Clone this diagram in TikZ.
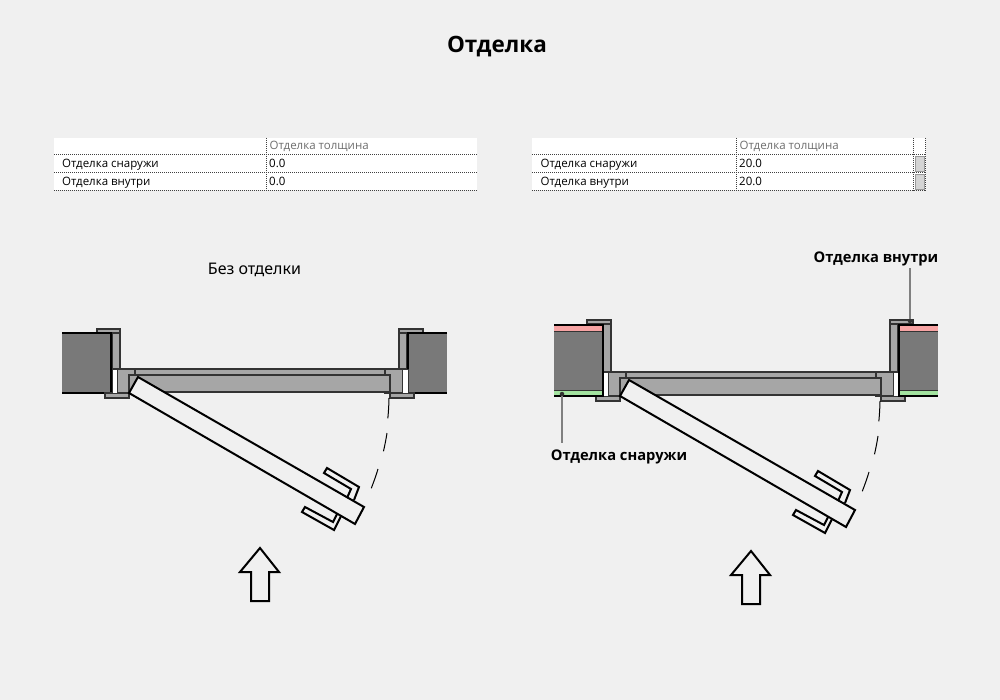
\documentclass[tikz,border=0pt]{standalone}
\usepackage{fontspec}
\setmainfont{Noto Sans}
\newfontfamily\tabfont{Open Sans}
\newfontfamily\headfont{Open Sans}
\definecolor{bg}{HTML}{F0F0F0}
\definecolor{metal}{HTML}{A6A6A6}
\definecolor{core}{HTML}{797979}
\definecolor{edge}{HTML}{333333}
\definecolor{pinkf}{HTML}{F6A3A3}
\definecolor{greenf}{HTML}{A3E3A0}
\definecolor{leader}{HTML}{808080}
\definecolor{headgray}{HTML}{6E6E6E}
\definecolor{btn}{HTML}{D4D4D4}
\tikzset{
  x=1pt,y=-1pt,
  part/.style={fill=metal,draw=edge,line width=1.1pt},
  gapw/.style={fill=white,draw=edge,line width=.8pt},
  wallb/.style={draw=black,line width=2pt},
  thick line/.style={draw=black,line width=2pt,line join=miter},
  swing/.style={draw=black,line width=1pt},
  cell/.style={font=\tabfont\fontsize{11.5}{13}\selectfont,anchor=base west,inner sep=0pt},
  head/.style={cell,text=headgray},
  grid/.style={draw=black!75,line width=.7pt,dash pattern=on 1pt off 1pt},
  lbl/.style={font=\headfont\fontsize{14.7}{18}\selectfont\bfseries,inner sep=0pt,anchor=base},
  lead/.style={draw=leader,line width=1.3pt},
  dot/.style={fill=edge,draw=none,circle,inner sep=0pt,minimum size=4.5pt},
}
\newcommand{\doorcore}{%
  \draw[part] (135,369) rectangle (385,375);
  \draw[part] (117.5,369) -- (135,369) -- (135,375) -- (129,375) -- (129,393) -- (117.5,393) -- cycle;
  \draw[part] (385,369) rectangle (402.5,393);
  \draw[part,line width=1.4pt] (129,375) rectangle (390,392);
  \draw[part] (105,393) rectangle (129,398);
  \draw[part] (390,393) rectangle (414,398);
  \draw[gapw] (112,369) rectangle (117.5,393);
  \draw[gapw] (402.5,369) rectangle (408,393);
  \draw[thick line,fill=bg] (138,377) -- (364,507) -- (355,524) -- (129,393) -- cycle;
  \draw[thick line] (354,500) -- (359,487) -- (327,468) -- (324,473) -- (351,489) -- (347,498);
  \draw[thick line] (337,514) -- (333,522) -- (305,507) -- (302,512) -- (334,530) -- (341,516);
  \draw[swing] (389,398) arc[start angle=1,end angle=5.5,radius=260];
  \draw[swing] (387,433) arc[start angle=8.9,end angle=13,radius=260];
  \draw[swing] (378,469) arc[start angle=17,end angle=21.5,radius=260];
  \draw[thick line] (260,548) -- (240,572) -- (251,572) -- (251,601) -- (269,601) -- (269,572) -- (279,572) -- cycle;
}
\begin{document}
\begin{tikzpicture}
\useasboundingbox[fill=bg] (0,0) rectangle (1000,700);
\node[font=\headfont\fontsize{22.5}{26}\selectfont\bfseries,inner sep=0pt,anchor=base] (title) at (497,52.5) {Отделка};

\fill[white] (54,138) rectangle (477,190.5);
\draw[grid] (54,154.5) -- (477,154.5) (54,172.5) -- (477,172.5) (54,190.5) -- (477,190.5) (266.5,138) -- (266.5,190.5);
\node[head] (lh) at (269.5,149.5) {Отделка толщина};
\node[cell] (la) at (62,167.5) {Отделка снаружи};
\node[cell] (lb) at (62,185.5) {Отделка внутри};
\node[cell] (lc) at (269,167.5) {0.0};
\node[cell] (ld) at (269,185.5) {0.0};

\fill[white] (532,138) rectangle (926,190.5);
\fill[btn,draw=black!40,line width=.5pt] (915.5,156) rectangle (924.5,171.5);
\fill[btn,draw=black!40,line width=.5pt] (915.5,174) rectangle (924.5,189.5);
\draw[grid] (532,154.5) -- (926,154.5) (532,172.5) -- (926,172.5) (532,190.5) -- (926,190.5) (736.5,138) -- (736.5,190.5) (913.5,138) -- (913.5,190.5) (925.5,138) -- (925.5,190.5);
\node[head] (rh) at (739.5,149.5) {Отделка толщина};
\node[cell] (ra) at (540.5,167.5) {Отделка снаружи};
\node[cell] (rb) at (540.5,185.5) {Отделка внутри};
\node[cell] (rc) at (739,167.5) {20.0};
\node[cell] (rd) at (739,185.5) {20.0};

\node[font=\fontsize{16}{18}\selectfont,inner sep=0pt,anchor=base] (bez) at (254.5,274.5) {Без отделки};

\fill[core] (62,333) rectangle (111,392.5);
\fill[core] (408,333) rectangle (447,392.5);
\draw[part] (97,329) rectangle (120,333);
\draw[part] (112,333) rectangle (120,369);
\draw[part] (399,329) rectangle (423,333);
\draw[part] (399,333) rectangle (407,369);
\draw[wallb] (62,333) -- (111,333) -- (111,392.5) -- (62,392.5);
\draw[wallb] (447,333) -- (408,333) -- (408,392.5) -- (447,392.5);
\doorcore

\begin{scope}[shift={(491,3)}]
\doorcore
\end{scope}
\fill[core] (554,331) rectangle (602,390);
\fill[pinkf] (554,325) rectangle (602,331);
\fill[greenf] (554,390) rectangle (602,396);
\fill[core] (899,331) rectangle (938,390);
\fill[pinkf] (899,325) rectangle (938,331);
\fill[greenf] (899,390) rectangle (938,396);
\draw[part] (587,320) rectangle (611,324);
\draw[part] (603,324) rectangle (611,372);
\draw[part] (890,320) rectangle (913,324);
\draw[part] (890,324) rectangle (898,372);
\draw[edge,line width=1pt] (554,331) -- (602,331) (554,390) -- (602,390) (899,331) -- (938,331) (899,390) -- (938,390);
\draw[wallb] (554,324.5) -- (602.5,324.5) -- (602.5,396) -- (554,396);
\draw[wallb] (938,324.5) -- (899,324.5) -- (899,396) -- (938,396);

\node[lbl] (out) at (619,460.5) {Отделка снаружи};
\node[lbl] (ins) at (876,262.5) {Отделка внутри};
\node[dot] (outd) at (562,394) {};
\node[dot] (insd) at (910,321) {};
\coordinate (outl) at (562,443);
\coordinate (insl) at (910,268);
\draw[lead] (outd) -- (outl);
\draw[lead] (insd) -- (insl);
\end{tikzpicture}
\end{document}
